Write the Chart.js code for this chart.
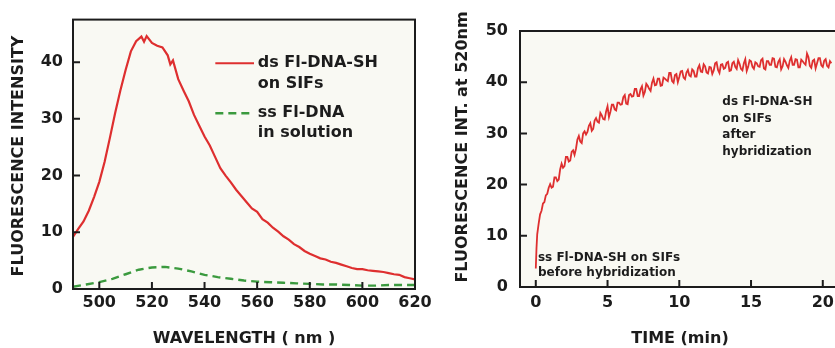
<!DOCTYPE html>
<html>
<head>
<meta charset="utf-8">
<script src="https://cdn.jsdelivr.net/npm/chart.js@4.4.1/dist/chart.umd.min.js"></script>
<style>
  html, body { margin: 0; padding: 0; background: #ffffff; overflow: hidden; width: 835px; height: 348px; }
  .panel { position: absolute; top: 0; }
  #spectrumBox { left: 0; width: 440px; height: 348px; }
  #kineticsBox { left: 420px; width: 440px; height: 348px; }
</style>
</head>
<body>
<div class="panel" id="spectrumBox"><canvas id="spectrum" width="440" height="348"></canvas></div>
<div class="panel" id="kineticsBox"><canvas id="kinetics" width="440" height="348"></canvas></div>
<script>
// ---- Emission spectra (left panel) ----
const wavelength = [490, 492, 494, 496, 498, 500, 502, 504, 506, 508, 510, 512, 514, 516, 517, 518, 520, 522, 524, 526, 527, 528,
  530, 532, 534, 536, 538, 540, 542, 544, 546, 548, 550, 552, 554, 556, 558, 560, 562, 564, 566, 568, 570, 572, 574, 576, 578,
  580, 582, 584, 586, 588, 590, 592, 594, 596, 598, 600, 602, 604, 606, 608, 610, 612, 614, 616, 618, 620];
const dsOnSIFs = [9.2, 10.6, 11.9, 13.8, 16.2, 18.9, 22.4, 26.6, 31.0, 35.0, 38.6, 41.9, 43.7, 44.5, 43.6, 44.6, 43.4, 42.9, 42.6, 41.2, 39.6, 40.3,
  37.0, 35.0, 33.1, 30.7, 28.8, 26.9, 25.3, 23.3, 21.3, 20.0, 18.8, 17.5, 16.4, 15.3, 14.2, 13.6, 12.3, 11.7, 10.8, 10.1, 9.3, 8.7, 7.9, 7.4, 6.7,
  6.2, 5.8, 5.4, 5.2, 4.8, 4.6, 4.3, 4.0, 3.7, 3.5, 3.5, 3.3, 3.2, 3.1, 3.0, 2.8, 2.6, 2.5, 2.1, 1.9, 1.7];

const wavelengthSs = [490, 495, 500, 505, 510, 515, 520, 525, 530, 535, 540, 545, 550, 555, 560, 565, 570, 575, 580, 585, 590, 595, 600, 605, 610, 615, 620];
const ssInSolution = [0.4, 0.8, 1.2, 1.8, 2.6, 3.4, 3.8, 3.9, 3.6, 3.1, 2.5, 2.1, 1.8, 1.5, 1.3, 1.2, 1.1, 1.0, 0.9, 0.8, 0.8, 0.7, 0.6, 0.6, 0.7, 0.7, 0.7];

const wavelengthTicks = [500, 520, 540, 560, 580, 600, 620];
const intensityTicks = [0, 10, 20, 30, 40];

// ---- Hybridization kinetics at 520 nm (right panel) ----
const timeMin = [0, 0.05, 0.1, 0.2, 0.3, 0.4, 0.5, 0.6, 0.7, 0.8, 0.9,
  1.0, 1.1, 1.2, 1.3, 1.4, 1.5, 1.6, 1.7, 1.8, 1.9, 2.0, 2.1, 2.2, 2.3, 2.4, 2.5, 2.6, 2.7, 2.8, 2.9,
  3.0, 3.1, 3.2, 3.3, 3.4, 3.5, 3.6, 3.7, 3.8, 3.9, 4.0, 4.1, 4.2, 4.3, 4.4, 4.5, 4.6, 4.7, 4.8, 4.9,
  5.0, 5.1, 5.2, 5.3, 5.4, 5.5, 5.6, 5.7, 5.8, 5.9, 6.0, 6.1, 6.2, 6.3, 6.4, 6.5, 6.6, 6.7, 6.8, 6.9,
  7.0, 7.1, 7.2, 7.3, 7.4, 7.5, 7.6, 7.7, 7.8, 7.9, 8.0, 8.1, 8.2, 8.3, 8.4, 8.5, 8.6, 8.7, 8.8, 8.9,
  9.0, 9.1, 9.2, 9.3, 9.4, 9.5, 9.6, 9.7, 9.8, 9.9, 10.0, 10.1, 10.2, 10.3, 10.4, 10.5, 10.6, 10.7, 10.8, 10.9,
  11.0, 11.1, 11.2, 11.3, 11.4, 11.5, 11.6, 11.7, 11.8, 11.9, 12.0, 12.1, 12.2, 12.3, 12.4, 12.5, 12.6, 12.7, 12.8, 12.9,
  13.0, 13.1, 13.2, 13.3, 13.4, 13.5, 13.6, 13.7, 13.8, 13.9, 14.0, 14.1, 14.2, 14.3, 14.4, 14.5, 14.6, 14.7, 14.8, 14.9,
  15.0, 15.1, 15.2, 15.3, 15.4, 15.5, 15.6, 15.7, 15.8, 15.9, 16.0, 16.1, 16.2, 16.3, 16.4, 16.5, 16.6, 16.7, 16.8, 16.9,
  17.0, 17.1, 17.2, 17.3, 17.4, 17.5, 17.6, 17.7, 17.8, 17.9, 18.0, 18.1, 18.2, 18.3, 18.4, 18.5, 18.6, 18.7, 18.8, 18.9,
  19.0, 19.1, 19.2, 19.3, 19.4, 19.5, 19.6, 19.7, 19.8, 19.9, 20.0, 20.1, 20.2, 20.3, 20.4, 20.5, 20.6];
const intAt520 = [3.6, 7.6, 10.3, 12.4, 14.2, 14.9, 16.3, 16.6, 17.9, 18.2, 19.4,
  20.1, 19.4, 19.6, 21.4, 21.4, 20.7, 21.0, 23.0, 24.1, 23.3, 23.6, 25.4, 25.4, 24.5, 24.7, 26.4, 26.7, 25.8, 27.0, 28.8,
  29.5, 28.4, 28.1, 30.0, 30.4, 29.8, 30.3, 31.5, 32.0, 30.5, 30.9, 32.5, 33.0, 32.3, 32.1, 34.0, 33.5, 32.8, 32.7, 34.3,
  35.3, 33.2, 34.2, 35.6, 35.6, 34.7, 34.5, 36.0, 36.0, 35.6, 35.7, 37.1, 37.5, 35.8, 35.7, 37.5, 37.7, 37.2, 37.3, 38.7,
  38.7, 37.3, 37.3, 38.6, 39.2, 37.4, 38.1, 39.7, 39.3, 38.7, 38.3, 39.9, 40.7, 39.4, 39.5, 40.7, 40.7, 39.3, 39.4, 40.9,
  40.7, 40.4, 40.2, 41.8, 41.8, 40.2, 39.9, 41.4, 41.6, 40.0, 41.0, 42.1, 42.2, 40.9, 40.6, 41.9, 42.4, 41.3, 41.1, 42.5,
  42.2, 41.1, 41.1, 42.7, 43.3, 42.1, 42.0, 43.5, 43.1, 41.9, 41.7, 43.0, 42.9, 41.6, 42.3, 43.7, 43.9, 42.4, 41.8, 43.4,
  43.5, 42.6, 42.8, 43.8, 44.0, 42.2, 42.3, 43.7, 44.0, 43.0, 42.6, 44.3, 43.6, 42.6, 42.3, 43.7, 44.5, 42.2, 43.0, 44.3,
  44.1, 43.0, 42.6, 43.9, 43.7, 43.1, 43.0, 44.3, 44.6, 42.7, 42.5, 44.1, 44.1, 43.4, 43.4, 44.7, 44.6, 43.0, 42.9, 44.0,
  44.5, 42.5, 43.1, 44.5, 44.0, 43.3, 42.8, 44.2, 44.9, 43.4, 43.4, 44.5, 44.4, 42.9, 42.9, 44.4, 44.1, 43.7, 43.4, 45.6,
  44.9, 43.2, 42.8, 44.2, 44.4, 42.7, 43.7, 44.7, 44.7, 43.3, 43.0, 44.2, 44.5, 43.2, 42.9, 44.1, 43.7];

const timeTicks = [0, 5, 10, 15, 20];
const kineticTicks = [0, 10, 20, 30, 40, 50];

const legendLines = [["ds Fl-DNA-SH", "on SIFs"], ["ss Fl-DNA", "in solution"]];
const afterNote = ["ds Fl-DNA-SH", "on SIFs", "after", "hybridization"];
const beforeNote = ["ss Fl-DNA-SH on SIFs", "before hybridization"];

const INK = '#1c1c1c';
const RED = '#de2f2f';
const GREEN = '#3b9a3e';
const FONT = "'DejaVu Sans', sans-serif";

const pairs = (xs, ys) => xs.map((v, i) => ({ x: v, y: ys[i] }));
const fixedTicks = arr => scale => { scale.ticks = arr.map(v => ({ value: v })); };

// Plot box, inward ticks, rotated axis title and text notes
const framePlugin = {
  id: 'frame',
  beforeDraw(chart) {
    const { ctx, chartArea: a } = chart;
    ctx.save();
    ctx.fillStyle = '#f9f9f3';
    ctx.fillRect(a.left, a.top, a.width, a.height);
    ctx.restore();
  },
  afterDatasetsDraw(chart, args, opts) {
    const { ctx, chartArea: a, scales: { x, y } } = chart;
    ctx.save();
    ctx.strokeStyle = INK;
    ctx.lineWidth = 2;
    ctx.strokeRect(a.left, a.top, a.width, a.height);
    ctx.beginPath();
    x.ticks.forEach(t => {
      const px = x.getPixelForValue(t.value);
      ctx.moveTo(px, a.bottom); ctx.lineTo(px, a.bottom - 7);
    });
    y.ticks.forEach(t => {
      const py = y.getPixelForValue(t.value);
      ctx.moveTo(a.left, py); ctx.lineTo(a.left + 7, py);
    });
    ctx.stroke();

    // vertical axis title
    if (opts.yTitle) {
      ctx.save();
      ctx.translate(opts.yTitle.cx, opts.yTitle.cy);
      ctx.rotate(-Math.PI / 2);
      ctx.fillStyle = INK;
      ctx.font = opts.yTitle.font;
      ctx.textAlign = 'center';
      ctx.textBaseline = 'middle';
      ctx.fillText(opts.yTitle.text, 0, 0);
      ctx.restore();
    }

    // notes anchored in data coordinates
    (opts.notes || []).forEach(n => {
      const px = x.getPixelForValue(n.x);
      const py = y.getPixelForValue(n.y);
      if (n.sample !== undefined) {
        const ds = chart.data.datasets[n.sample];
        ctx.save();
        ctx.strokeStyle = ds.borderColor;
        ctx.lineWidth = ds.borderWidth;
        ctx.setLineDash(ds.borderDash || []);
        ctx.beginPath();
        ctx.moveTo(x.getPixelForValue(n.sampleFrom), py);
        ctx.lineTo(x.getPixelForValue(n.sampleTo), py);
        ctx.stroke();
        ctx.restore();
      }
      ctx.fillStyle = INK;
      ctx.font = n.font;
      ctx.textAlign = 'left';
      ctx.textBaseline = 'middle';
      n.lines.forEach((line, i) => ctx.fillText(line, px, py + i * n.lineGap));
    });
    ctx.restore();
  }
};

const tickFont = { family: FONT, size: 16, weight: 'bold' };
const titleFont = { family: FONT, size: 16, weight: 'bold' };

// Left panel: emission spectra
new Chart(document.getElementById('spectrum'), {
  type: 'line',
  data: {
    datasets: [
      { data: pairs(wavelength, dsOnSIFs), borderColor: RED, borderWidth: 2.2 },
      { data: pairs(wavelengthSs, ssInSolution), borderColor: GREEN, borderWidth: 2.4, borderDash: [8, 5] }
    ]
  },
  options: {
    responsive: false,
    animation: false,
    layout: { padding: { top: 12, right: 25, left: 0, bottom: 0 } },
    elements: { point: { radius: 0 }, line: { tension: 0, fill: false } },
    scales: {
      x: {
        type: 'linear', min: 490, max: 620,
        afterBuildTicks: fixedTicks(wavelengthTicks),
        afterFit: s => { s.height = 59; },
        grid: { display: false, drawTicks: false },
        border: { display: false },
        ticks: { color: INK, font: tickFont, padding: 4, maxRotation: 0 },
        title: { display: true, text: 'WAVELENGTH ( nm )', color: INK, font: titleFont, padding: { top: 0, bottom: 0 } }
      },
      y: {
        type: 'linear', min: 0, max: 47.5,
        afterBuildTicks: fixedTicks(intensityTicks),
        afterFit: s => { s.width = 73; },
        grid: { display: false, drawTicks: false },
        border: { display: false },
        ticks: { color: INK, font: tickFont, padding: 10 }
      }
    },
    plugins: {
      legend: { display: false },
      tooltip: { enabled: false },
      frame: {
        yTitle: { text: 'FLUORESCENCE INTENSITY', cx: 19, cy: 156, font: `bold 16px ${FONT}` },
        notes: [
          { x: 560.2, y: 39.8, lines: legendLines[0], lineGap: 21, font: `bold 16px ${FONT}`, sample: 0, sampleFrom: 544.1, sampleTo: 558.8 },
          { x: 560.2, y: 31.0, lines: legendLines[1], lineGap: 20, font: `bold 16px ${FONT}`, sample: 1, sampleFrom: 544.1, sampleTo: 558.8 }
        ]
      }
    }
  },
  plugins: [framePlugin]
});

// Right panel: intensity at 520 nm versus time
new Chart(document.getElementById('kinetics'), {
  type: 'line',
  data: {
    datasets: [
      { data: pairs(timeMin, intAt520), borderColor: RED, borderWidth: 1.8 }
    ]
  },
  options: {
    responsive: false,
    animation: false,
    layout: { padding: { top: 31, right: 20, left: 0, bottom: 0 } },
    elements: { point: { radius: 0 }, line: { tension: 0, fill: false } },
    scales: {
      x: {
        type: 'linear', min: -1.1, max: 21.2,
        afterBuildTicks: fixedTicks(timeTicks),
        afterFit: s => { s.height = 61; },
        grid: { display: false, drawTicks: false },
        border: { display: false },
        ticks: { color: INK, font: tickFont, padding: 6, maxRotation: 0 },
        title: { display: true, text: 'TIME (min)', color: INK, font: titleFont, padding: { top: 0, bottom: 0 } }
      },
      y: {
        type: 'linear', min: 0, max: 50,
        afterBuildTicks: fixedTicks(kineticTicks),
        afterFit: s => { s.width = 100; },
        grid: { display: false, drawTicks: false },
        border: { display: false },
        ticks: { color: INK, font: tickFont, padding: 12 }
      }
    },
    plugins: {
      legend: { display: false },
      tooltip: { enabled: false },
      frame: {
        yTitle: { text: 'FLUORESCENCE INT. at 520nm', cx: 43, cy: 147, font: `bold 16px ${FONT}` },
        notes: [
          { x: 13.0, y: 36.1, lines: afterNote, lineGap: 16.5, font: `bold 12px ${FONT}` },
          { x: 0.15, y: 5.7, lines: beforeNote, lineGap: 15, font: `bold 12px ${FONT}` }
        ]
      }
    }
  },
  plugins: [framePlugin]
});
</script>
</body>
</html>
